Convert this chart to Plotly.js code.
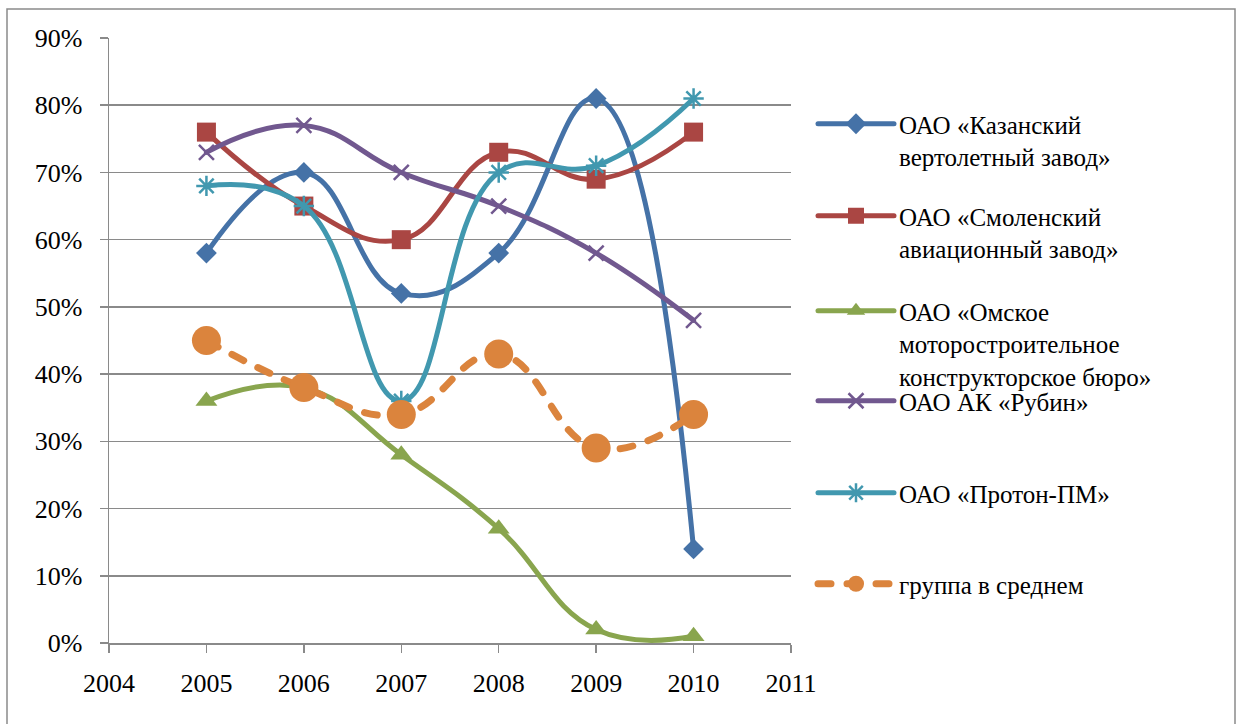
<!DOCTYPE html>
<html>
<head>
<meta charset="utf-8">
<script src="https://cdn.plot.ly/plotly-3.0.1.min.js"></script>
<style>
  html, body { margin: 0; padding: 0; background: #fff; }
  #chart { width: 1239px; height: 724px; }
  .scatterlayer .js-line, .legendlines path { stroke-linecap: round; stroke-linejoin: round; }
</style>
</head>
<body>
<div id="chart"></div>
<script>
// ---- data ----
const years = [2005, 2006, 2007, 2008, 2009, 2010];
const kazan = [0.58, 0.70, 0.52, 0.58, 0.81, 0.14];
const smolensk = [0.76, 0.65, 0.60, 0.73, 0.69, 0.76];
const omsk = [0.36, 0.38, 0.28, 0.17, 0.02, 0.01];
const rubin = [0.73, 0.77, 0.70, 0.65, 0.58, 0.48];
const proton = [0.68, 0.65, 0.36, 0.70, 0.71, 0.81];
const groupAvg = [0.45, 0.38, 0.34, 0.43, 0.29, 0.34];
const seriesNames = [
  "ОАО «Казанский<br>вертолетный завод»",
  "ОАО «Смоленский<br>авиационный завод»",
  "ОАО «Омское<br>моторостроительное<br>конструкторское бюро»",
  "ОАО АК «Рубин»",
  "ОАО «Протон-ПМ»",
  "группа в среднем"
];

// ---- layout geometry (pixels) ----
const W = 1239, H = 724;
const L = 109, R = 791, T = 38, B = 643;
const pw = R - L, ph = B - T;
const px2x = p => (p - L) / pw;
const px2y = p => (B - p) / ph;

const FONT = '"Liberation Serif", "Times New Roman", Times, serif';
const GRID = "#8a8a8a";

const styles = [
  {color: "#4572A7", symbol: "diamond", size: 16, dash: "solid", lw: 5},
  {color: "#AA4643", symbol: "square", size: 19, dash: "solid", lw: 5},
  {color: "#89A54E", symbol: "triangle-up", size: 19, dash: "solid", lw: 5},
  {color: "#71588F", symbol: "x-thin-open", size: 15, dash: "solid", lw: 5, open: true},
  {color: "#4198AF", symbol: "asterisk-open", size: 17, dash: "solid", lw: 5, open: true},
  {color: "#DB843D", symbol: "circle", size: 29, dash: "13px,16px", lw: 7}
];
const values = [kazan, smolensk, omsk, rubin, proton, groupAvg];
const legendY = [121, 213, 308, 398, 490, 581];

const traces = values.map((v, i) => {
  const s = styles[i];
  const marker = {symbol: s.symbol, size: s.size, color: s.color};
  if (s.open) marker.line = {color: s.color, width: 2.5};
  return {
    type: "scatter", mode: "lines+markers",
    x: years, y: v, name: seriesNames[i],
    line: {color: s.color, width: s.lw, shape: "spline", smoothing: 1.25, dash: s.dash},
    marker: marker,
    legend: i === 0 ? "legend" : "legend" + (i + 1),
    hoverinfo: "x+y"
  };
});

const layout = {
  width: W, height: H,
  margin: {l: L, r: W - R, t: T, b: H - B, pad: 0},
  paper_bgcolor: "#fff", plot_bgcolor: "#fff",
  font: {family: FONT, size: 26, color: "#000"},
  showlegend: true,
  xaxis: {
    range: [2004, 2011], dtick: 1, tick0: 2004,
    showgrid: false, zeroline: false,
    showline: true, linecolor: GRID, linewidth: 1.5,
    ticks: "outside", ticklen: 8, tickcolor: GRID, tickwidth: 1.5,
    tickfont: {family: FONT, size: 26, color: "#000"},
    ticklabelstandoff: 8
  },
  yaxis: {
    range: [0, 0.9], dtick: 0.1, tick0: 0, tickformat: ".0%",
    showgrid: true, gridcolor: GRID, gridwidth: 1.5,
    zeroline: false,
    showline: true, linecolor: GRID, linewidth: 1.5,
    ticks: "outside", ticklen: 8, tickcolor: GRID, tickwidth: 1.5,
    tickfont: {family: FONT, size: 26, color: "#000"},
    ticklabelstandoff: 12
  },
  shapes: [{
    type: "rect", xref: "paper", yref: "paper",
    x0: px2x(7), x1: px2x(1235), y0: px2y(730), y1: px2y(9),
    line: {color: GRID, width: 1.5}, fillcolor: "rgba(0,0,0,0)", layer: "below"
  }]
};

legendY.forEach((yc, i) => {
  const key = i === 0 ? "legend" : "legend" + (i + 1);
  layout[key] = {
    x: px2x(813), xanchor: "left",
    y: px2y(yc - 20), yanchor: "top",
    valign: "top",
    itemwidth: 76,
    bgcolor: "rgba(0,0,0,0)", borderwidth: 0,
    font: {family: FONT, size: 25, color: "#000"},
    itemclick: false, itemdoubleclick: false
  };
});

Plotly.newPlot("chart", traces, layout, {displayModeBar: false, staticPlot: true});
</script>
</body>
</html>
